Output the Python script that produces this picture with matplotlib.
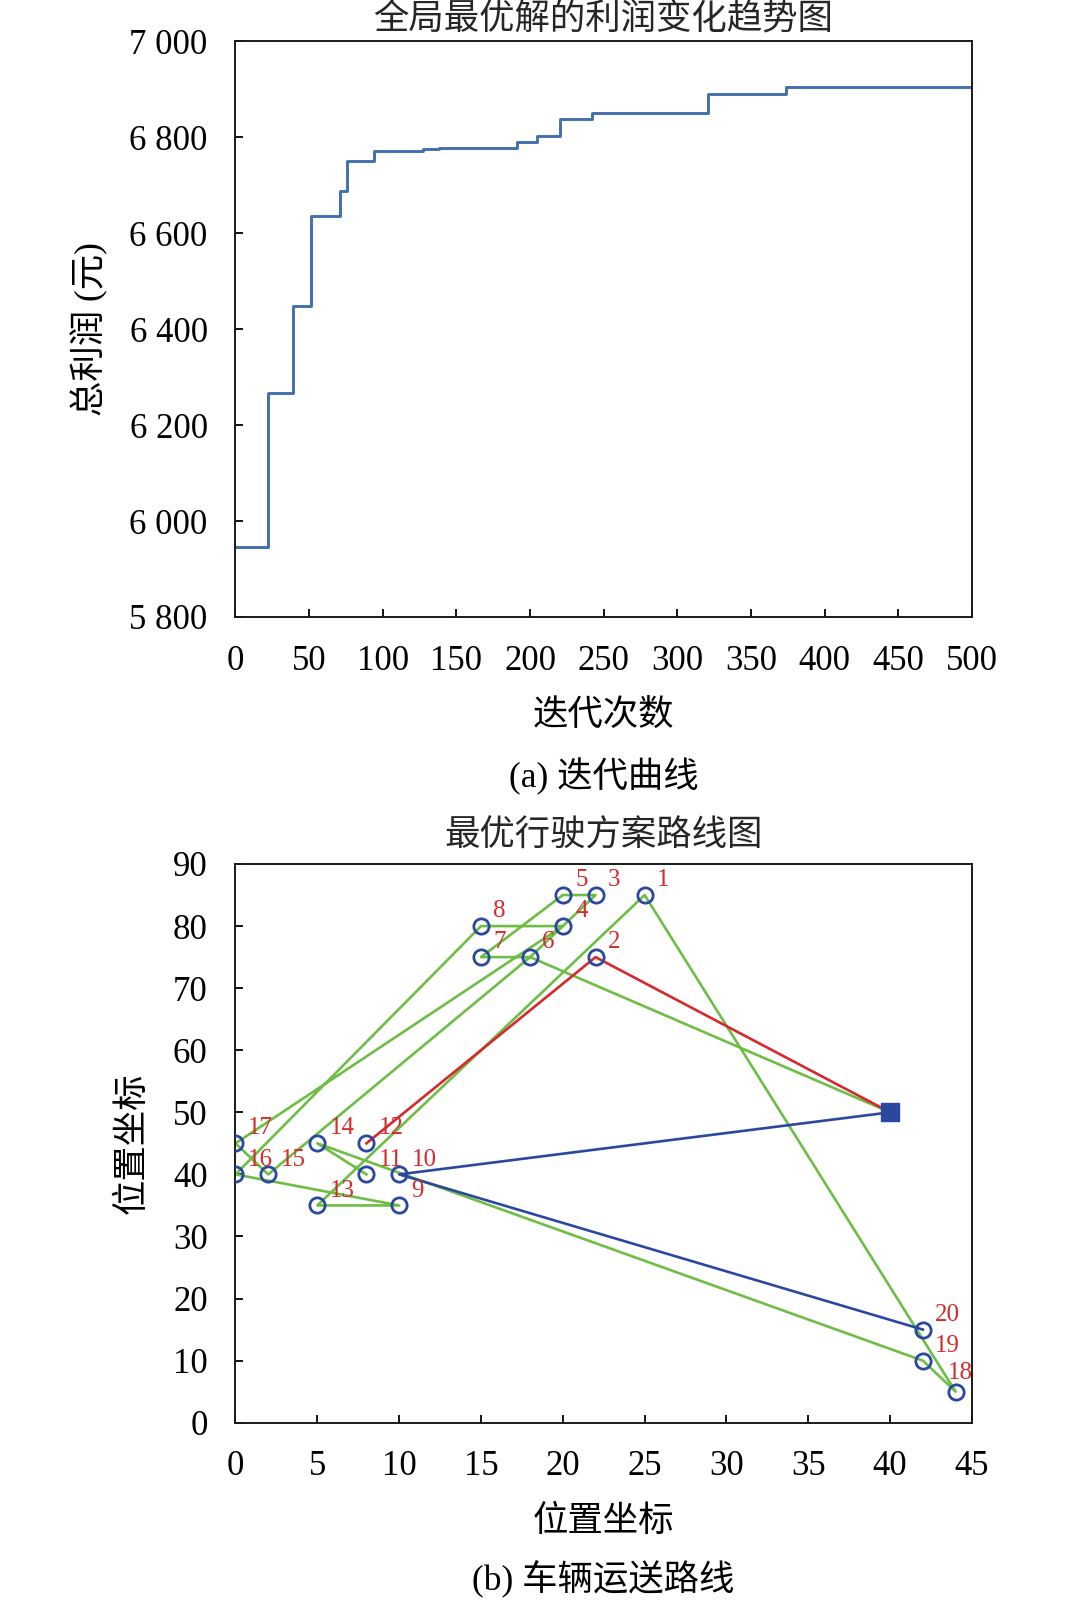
import numpy as np
import matplotlib
matplotlib.use("Agg")
import matplotlib.pyplot as plt
from matplotlib.ticker import FuncFormatter

# =================== 数据 ===================
# (a) 迭代曲线: 最优解发生变化的迭代次数 与 对应总利润
iter_change = [0, 22, 39, 51, 71, 76, 94, 127, 138, 191, 205, 220, 242, 321, 374, 500]
profit_vals = [5945, 6268, 6448, 6636, 6688, 6751, 6772, 6775, 6777, 6791, 6802,
               6839, 6851, 6890, 6906, 6906]

# (b) 车辆运送路线: 配送中心 + 20 个客户点
depot = (40, 50)
node_ids = list(range(1, 21))
node_x = [25, 22, 22, 20, 20, 18, 15, 15, 10, 10, 8, 8, 5, 5, 2, 0, 0, 44, 42, 42]
node_y = [85, 75, 85, 80, 85, 75, 75, 80, 35, 40, 40, 45, 35, 45, 40, 40, 45, 5, 10, 15]

# 各车辆路线 (0 表示配送中心)
route_red = [0, 2, 12]
route_blue = [0, 10, 20]
route_green = [0, 6, 7, 5, 3, 4, 6, 15, 17, 4, 8, 16, 9, 13, 1, 18, 19, 14, 11]

# =================== 样式 ===================
CURVE = "#4170ad"
RED = "#d7282d"
GREEN = "#6ebd45"
BLUE = "#2b48a0"
LABEL_RED = "#d42b2b"

plt.rcParams.update({
    "font.family": ["Liberation Serif", "Noto Sans CJK SC"],
    "font.size": 25,
    "axes.linewidth": 1.4,
    "axes.unicode_minus": False,
})

fig = plt.figure(figsize=(10.68, 16), dpi=100)


def space_thousands(v, pos):
    return f"{int(round(v)):,}".replace(",", " ")


def style_axes(ax):
    ax.tick_params(direction="in", length=6, width=1.3, pad=20, labelsize=25,
                   top=False, right=False)
    for sp in ax.spines.values():
        sp.set_color("#1a1a1a")


# ---- (a) 迭代曲线 ----
ax1 = fig.add_axes([0.2205, 0.6144, 0.6896, 0.3597])
ax1.step(iter_change, profit_vals, where="post", color=CURVE, linewidth=2.1)
ax1.set_xlim(0, 500)
ax1.set_ylim(5800, 7000)
ax1.set_xticks(np.arange(0, 501, 50))
ax1.set_yticks(np.arange(5800, 7001, 200))
ax1.yaxis.set_major_formatter(FuncFormatter(space_thousands))
style_axes(ax1)
ax1.set_xlabel("迭代次数", fontsize=25.5)
ax1.xaxis.set_label_coords(0.5, -0.173)
ax1.xaxis.label.set_va("center")
ax1.set_ylabel("总利润 (元)", fontsize=25.5, va="center")
ax1.yaxis.set_label_coords(-0.1976, 0.5)
fig.text(0.565, 0.9875, "全局最优解的利润变化趋势图", fontsize=25.5,
         ha="center", va="center", color="#262626")
fig.text(0.565, 0.5146, "(a) 迭代曲线", fontsize=25.5, ha="center", va="center")

# ---- (b) 车辆运送路线 ----
ax2 = fig.add_axes([0.2205, 0.1108, 0.6896, 0.3492])

xs = [depot[0]] + node_x
ys = [depot[1]] + node_y
for route, color in [(route_green, GREEN), (route_red, RED), (route_blue, BLUE)]:
    ax2.plot([xs[i] for i in route], [ys[i] for i in route],
             color=color, linewidth=1.9, zorder=2)

ax2.plot(node_x, node_y, linestyle="none", marker="o", markersize=11,
         markerfacecolor="none", markeredgecolor=BLUE, markeredgewidth=2, zorder=3)
ax2.plot(depot[0], depot[1], linestyle="none", marker="s", markersize=13,
         color=BLUE, zorder=4)
for nid, x, y in zip(node_ids, node_x, node_y):
    dx = -0.45 if nid == 18 else 0.75
    dy = 3.0 if nid == 18 else 2.4
    ax2.text(x + dx, y + dy, str(nid), fontsize=18, color=LABEL_RED,
             ha="left", va="center", zorder=5)

ax2.set_xlim(0, 45)
ax2.set_ylim(0, 90)
ax2.set_xticks(np.arange(0, 46, 5))
ax2.set_yticks(np.arange(0, 91, 10))
style_axes(ax2)
ax2.set_xlabel("位置坐标", fontsize=25.5)
ax2.xaxis.set_label_coords(0.5, -0.178)
ax2.xaxis.label.set_va("center")
ax2.set_ylabel("位置坐标", fontsize=25.5, va="center")
ax2.yaxis.set_label_coords(-0.139, 0.5)
fig.text(0.565, 0.477, "最优行驶方案路线图", fontsize=25.5,
         ha="center", va="center", color="#262626")
fig.text(0.565, 0.0125, "(b) 车辆运送路线", fontsize=25.5, ha="center", va="center")

fig.savefig("out.png", dpi=100)
